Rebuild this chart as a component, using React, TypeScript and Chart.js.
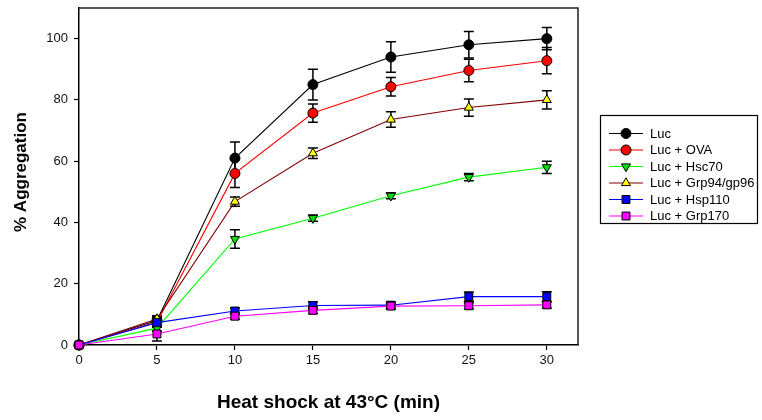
import React, { useEffect, useRef } from "react";
import { Chart, registerables } from "chart.js";

Chart.register(...registerables);

const times = [0, 5, 10, 15, 20, 25, 30];
const xTicks = [0, 5, 10, 15, 20, 25, 30];
const yTicks = [0, 20, 40, 60, 80, 100];

const labels = ["Luc", "Luc + OVA", "Luc + Hsc70", "Luc + Grp94/gp96", "Luc + Hsp110", "Luc + Grp170"];

const lucValues = [0, 8, 61, 85, 94, 98, 100];
const lucErrors = [0, 1.5, 5.3, 5, 5, 4.3, 3.6];
const ovaValues = [0, 7.5, 56, 75.7, 84.3, 89.6, 92.8];
const ovaErrors = [0, 1.5, 4.6, 3, 3, 3.7, 4.3];
const hsc70Values = [0, 5.5, 34.6, 41.4, 48.7, 54.8, 58];
const hsc70Errors = [0, 1, 3, 1, 1, 1.2, 2];
const grp94Values = [0, 8.5, 46.8, 62.6, 73.6, 77.5, 80];
const grp94Errors = [0, 1, 1.5, 1.7, 2.5, 2.8, 3];
const hsp110Values = [0, 7.3, 11.1, 12.9, 13, 15.8, 15.8];
const hsp110Errors = [0, 1.5, 1, 1.2, 1, 1.5, 1.6];
const grp170Values = [0, 3.6, 9.4, 11.3, 12.7, 12.8, 13.1];
const grp170Errors = [0, 2.3, 1, 1, 1, 1, 1];

const FONT = "'Liberation Sans', Arial, sans-serif";

type Series = {
  label: string;
  values: number[];
  errors: number[];
  line: string;
  fill: string;
  style: string;
  rot: number;
  r: number;
};

function drawMarker(ctx: CanvasRenderingContext2D, s: Series, x: number, y: number) {
  ctx.save();
  ctx.fillStyle = s.fill;
  ctx.strokeStyle = "#000";
  ctx.lineWidth = 1;
  ctx.beginPath();
  const r = s.r;
  if (s.style === "circle") {
    ctx.arc(x, y, r, 0, Math.PI * 2);
  } else if (s.style === "triangle") {
    const rad = (s.rot * Math.PI) / 180;
    for (let k = 0; k < 3; k++) {
      const a = rad + (k * 2 * Math.PI) / 3;
      const px = x + Math.sin(a) * r;
      const py = y - Math.cos(a) * r;
      if (k === 0) ctx.moveTo(px, py);
      else ctx.lineTo(px, py);
    }
    ctx.closePath();
  } else {
    const h = Math.SQRT1_2 * r;
    ctx.rect(x - h, y - h, 2 * h, 2 * h);
  }
  ctx.fill();
  ctx.stroke();
  ctx.restore();
}

export default function App() {
  const ref = useRef<HTMLCanvasElement>(null);

  useEffect(() => {
    document.body.style.margin = "0";
    const series: Series[] = [
      { label: labels[0], values: lucValues, errors: lucErrors, line: "#000000", fill: "#000000", style: "circle", rot: 0, r: 5 },
      { label: labels[1], values: ovaValues, errors: ovaErrors, line: "#ff0000", fill: "#ff0000", style: "circle", rot: 0, r: 5 },
      { label: labels[2], values: hsc70Values, errors: hsc70Errors, line: "#00ff00", fill: "#00e000", style: "triangle", rot: 180, r: 5.2 },
      { label: labels[3], values: grp94Values, errors: grp94Errors, line: "#800000", fill: "#ffff00", style: "triangle", rot: 0, r: 5.2 },
      { label: labels[4], values: hsp110Values, errors: hsp110Errors, line: "#0000ff", fill: "#0000ff", style: "rect", rot: 0, r: 5.6 },
      { label: labels[5], values: grp170Values, errors: grp170Errors, line: "#ff00ff", fill: "#ff00ff", style: "rect", rot: 0, r: 5.6 },
    ];

    const overlay = {
      id: "overlay",
      beforeDatasetsDraw(chart: any) {
        const ctx: CanvasRenderingContext2D = chart.ctx;
        const xs = chart.scales.x;
        const ys = chart.scales.y;
        ctx.save();
        ctx.strokeStyle = "#000";
        ctx.lineWidth = 1.5;
        series.forEach((s) => {
          times.forEach((t, j) => {
            const e = s.errors[j];
            if (!e) return;
            const px = xs.getPixelForValue(t);
            const top = ys.getPixelForValue(s.values[j] + e);
            const bot = ys.getPixelForValue(s.values[j] - e);
            ctx.beginPath();
            ctx.moveTo(px, top);
            ctx.lineTo(px, bot);
            ctx.moveTo(px - 5, top);
            ctx.lineTo(px + 5, top);
            ctx.moveTo(px - 5, bot);
            ctx.lineTo(px + 5, bot);
            ctx.stroke();
          });
        });
        ctx.restore();
      },
      afterDraw(chart: any) {
        const ctx: CanvasRenderingContext2D = chart.ctx;
        const a = chart.chartArea;
        ctx.save();
        // frame
        ctx.strokeStyle = "#222";
        ctx.lineWidth = 1.5;
        ctx.beginPath();
        ctx.moveTo(a.left, a.top);
        ctx.lineTo(a.right, a.top);
        ctx.lineTo(a.right, a.bottom);
        ctx.stroke();
        // titles
        ctx.fillStyle = "#000";
        ctx.textAlign = "center";
        ctx.textBaseline = "middle";
        ctx.font = `bold 19px ${FONT}`;
        ctx.fillText("Heat shock at 43°C (min)", (a.left + a.right) / 2, 403);
        ctx.save();
        ctx.translate(21, 172);
        ctx.rotate(-Math.PI / 2);
        ctx.font = `bold 17px ${FONT}`;
        ctx.fillText("% Aggregation", 0, 0);
        ctx.restore();
        // legend
        ctx.strokeStyle = "#000";
        ctx.lineWidth = 1.2;
        ctx.strokeRect(600.5, 115.5, 157, 108);
        ctx.font = `13px ${FONT}`;
        ctx.textAlign = "left";
        series.forEach((s, i) => {
          const y = 133.5 + i * 16.5;
          ctx.strokeStyle = s.line;
          ctx.lineWidth = 1.2;
          ctx.beginPath();
          ctx.moveTo(609, y);
          ctx.lineTo(643, y);
          ctx.stroke();
          drawMarker(ctx, s, 626, y);
          ctx.fillStyle = "#000";
          ctx.fillText(s.label, 650, y + 0.5);
        });
        ctx.restore();
      },
    };

    const chart = new Chart(ref.current!, {
      type: "line",
      data: {
        datasets: series.map((s, i) => ({
          label: s.label,
          data: times.map((t, j) => ({ x: t, y: s.values[j] })),
          borderColor: s.line,
          borderWidth: 1.1,
          backgroundColor: s.fill,
          pointBackgroundColor: s.fill,
          pointBorderColor: "#000",
          pointBorderWidth: 1,
          pointStyle: s.style as any,
          pointRotation: s.rot,
          pointRadius: s.r,
          tension: 0,
          clip: false as any,
          order: series.length - i,
        })),
      },
      options: {
        animation: false,
        responsive: false,
        devicePixelRatio: 1,
        layout: { padding: { left: 0, top: 8, right: 184, bottom: 0 } },
        plugins: { legend: { display: false }, tooltip: { enabled: false } },
        scales: {
          x: {
            type: "linear",
            min: 0,
            max: 32,
            afterBuildTicks: (s: any) => {
              s.ticks = xTicks.map((v) => ({ value: v }));
            },
            afterFit: (s: any) => {
              s.height = 75;
              s.paddingLeft = 0;
              s.paddingRight = 0;
            },
            grid: { display: true, drawOnChartArea: false, drawTicks: true, tickLength: 5, tickColor: "#000", tickWidth: 1.2 },
            border: { display: true, color: "#000", width: 1.5 },
            ticks: { color: "#111", font: { family: FONT, size: 13 }, padding: 3, maxRotation: 0, autoSkip: false },
          },
          y: {
            type: "linear",
            min: 0,
            max: 110,
            afterBuildTicks: (s: any) => {
              s.ticks = yTicks.map((v) => ({ value: v }));
            },
            afterFit: (s: any) => {
              s.width = 79;
              s.paddingTop = 0;
              s.paddingBottom = 0;
            },
            grid: { display: true, drawOnChartArea: false, drawTicks: true, tickLength: 5, tickColor: "#000", tickWidth: 1.2 },
            border: { display: true, color: "#000", width: 1.5 },
            ticks: { color: "#111", font: { family: FONT, size: 13 }, padding: 6, autoSkip: false },
          },
        },
      },
      plugins: [overlay],
    });
    return () => chart.destroy();
  }, []);

  return (
    <div style={{ position: "fixed", left: 0, top: 0, width: 762, height: 420, background: "#fff" }}>
      <canvas ref={ref} width={762} height={420} style={{ width: 762, height: 420 }} />
    </div>
  );
}
